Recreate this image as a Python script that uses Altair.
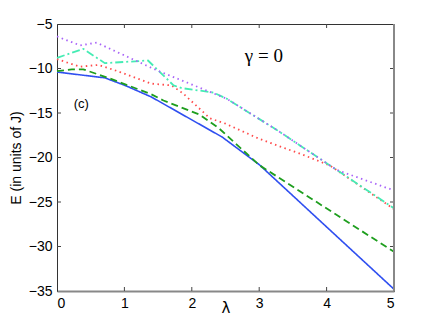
import altair as alt
import pandas as pd

# ---- data ----
lam_blue = [0, 0.71, 1.01, 1.4, 2.45, 3.0, 5]
E_blue = [-10.4, -11.05, -11.9, -13.2, -17.7, -20.8, -34.8]

lam_green = [0, 0.22, 0.39, 0.76, 1.4, 1.58, 2.12, 2.4, 3.0, 5]
E_green = [-10.3, -10.1, -10.1, -11.05, -12.9, -13.6, -15.2, -16.7, -20.85, -30.6]

lam_red = [0, 0.34, 0.61, 0.86, 1.4, 1.7, 1.87, 2.27, 2.5, 3.0, 3.65, 4.05, 5]
E_red = [-8.95, -9.8, -9.6, -10.2, -11.7, -11.9, -12.8, -15.6, -16.2, -17.9, -19.7, -20.9, -25.8]

lam_cyan = [0, 0.39, 0.71, 1.35, 1.73, 1.85, 2.32, 2.52, 3.26, 4.15, 5]
E_cyan = [-8.8, -7.8, -9.4, -9.1, -11.9, -12.2, -12.7, -13.4, -16.9, -21.4, -25.7]

lam_purple = [0, 0.34, 0.59, 1.48, 2.52, 3.26, 4.15, 5]
E_purple = [-6.4, -7.4, -7.1, -10.2, -13.4, -16.9, -21.4, -23.7]

x_ticks = [0, 1, 2, 3, 4, 5]
y_ticks = [-35, -30, -25, -20, -15, -10, -5]

W, H = 337, 267
xs = alt.Scale(domain=[0, 5], nice=False, zero=False)
ys = alt.Scale(domain=[-35, -5], nice=False, zero=False)

series = [
    (lam_blue, E_blue, "#2f4ff0", [1, 0], 1.6),
    (lam_green, E_green, "#1e9e1e", [7, 4], 1.8),
    (lam_red, E_red, "#ff4a4a", [1.5, 3.5], 1.8),
    (lam_cyan, E_cyan, "#45ecb4", [8, 3, 2, 3], 1.8),
    (lam_purple, E_purple, "#a864f8", [1.5, 3.5], 1.8),
]

layers = []
first = True
for lx, ly, col, dash, sw in series:
    df = pd.DataFrame({"x": lx, "y": ly})
    if first:
        xenc = alt.X("x:Q", scale=xs, title="λ",
                     axis=alt.Axis(values=x_ticks, format="d", ticks=False, grid=False,
                                   domain=True, domainColor="#888888", domainWidth=2,
                                   labelFont="Liberation Sans", labelFontSize=14,
                                   labelColor="#000", labelPadding=5,
                                   titleFont="DejaVu Sans", titleFontSize=15,
                                   titleFontWeight="normal", titleColor="#000",
                                   titleBaseline="top", titleY=9))
        yenc = alt.Y("y:Q", scale=ys, title="E (in units of J)",
                     axis=alt.Axis(values=y_ticks, ticks=False, grid=False, domain=True,
                                   domainColor="#333333", domainWidth=1,
                                   labelFont="Liberation Sans", labelFontSize=14,
                                   labelColor="#000", labelPadding=5,
                                   titleFont="Liberation Sans", titleFontSize=14,
                                   titleFontWeight="normal", titleColor="#000",
                                   titleAngle=-90, titleBaseline="alphabetic",
                                   titleX=-37, titleY=H / 2, titleAlign="center"))
        first = False
    else:
        xenc = alt.X("x:Q", scale=xs)
        yenc = alt.Y("y:Q", scale=ys)
    layers.append(
        alt.Chart(df).mark_line(color=col, strokeDash=dash, strokeWidth=sw,
                                strokeCap="butt").encode(x=xenc, y=yenc)
    )

xt = pd.DataFrame({"x": x_ticks[1:-1]})
yt = pd.DataFrame({"y": y_ticks[1:-1]})
tick_color = "#444444"
layers += [
    alt.Chart(xt).mark_rule(color=tick_color, strokeWidth=1).encode(
        x=alt.X("x:Q", scale=xs), y=alt.value(H), y2=alt.value(H - 4)),
    alt.Chart(xt).mark_rule(color=tick_color, strokeWidth=1).encode(
        x=alt.X("x:Q", scale=xs), y=alt.value(0), y2=alt.value(4)),
    alt.Chart(yt).mark_rule(color=tick_color, strokeWidth=1).encode(
        y=alt.Y("y:Q", scale=ys), x=alt.value(0), x2=alt.value(4)),
    alt.Chart(yt).mark_rule(color=tick_color, strokeWidth=1).encode(
        y=alt.Y("y:Q", scale=ys), x=alt.value(W), x2=alt.value(W - 4)),
    alt.Chart(pd.DataFrame({"a": [0]})).mark_rule(color="#888888", strokeWidth=2).encode(
        x=alt.value(W), y=alt.value(0), y2=alt.value(H)),
]

ann = pd.DataFrame({"x": [3.07], "y": [-8.55], "t": ["γ = 0"]})
layers.append(alt.Chart(ann).mark_text(font="Liberation Serif", fontSize=19,
                                       color="#000").encode(
    x=alt.X("x:Q", scale=xs), y=alt.Y("y:Q", scale=ys), text="t:N"))
ann2 = pd.DataFrame({"x": [0.36], "y": [-14.0], "t": ["(c)"]})
layers.append(alt.Chart(ann2).mark_text(font="Liberation Sans", fontSize=13,
                                        color="#000").encode(
    x=alt.X("x:Q", scale=xs), y=alt.Y("y:Q", scale=ys), text="t:N"))

chart = alt.layer(*layers).properties(
    width=W, height=H,
    autosize=alt.AutoSizeParams(type="none"),
    padding={"left": 49, "top": 16, "right": 34, "bottom": 28},
).configure_view(stroke="#333333", strokeWidth=1)

chart.save("out.html", embed_options={"renderer": "svg", "actions": False})
